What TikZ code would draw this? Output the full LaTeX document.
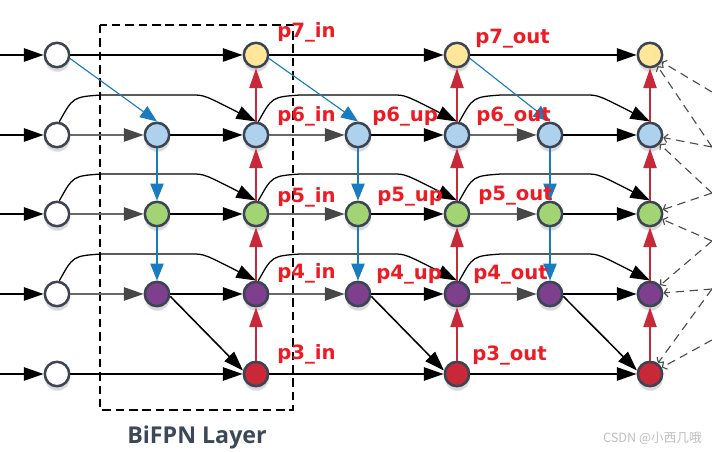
\documentclass[tikz,border=0pt]{standalone}
\usepackage{fontspec}
\setmainfont{Open Sans}
\newfontfamily\lblfont{DejaVu Sans}
\newfontfamily\cjkfont{Noto Sans CJK SC}
\usepackage{tikz}
\usetikzlibrary{arrows.meta,calc,shadows}
\definecolor{rim}{RGB}{58,68,82}
\definecolor{cyel}{RGB}{255,230,153}
\definecolor{cblu}{RGB}{174,210,238}
\definecolor{cgrn}{RGB}{162,212,116}
\definecolor{cpur}{RGB}{126,63,140}
\definecolor{cred}{RGB}{200,40,56}
\definecolor{lblred}{RGB}{237,28,36}
\definecolor{upred}{RGB}{200,40,56}
\definecolor{dnblu}{RGB}{24,124,190}
\definecolor{gline}{RGB}{105,105,105}
\definecolor{ttl}{RGB}{60,72,88}
\tikzset{
  fm/.style={circle,draw=rim,line width=1.8pt,minimum size=0.61cm,inner sep=0pt,
    circular drop shadow={shadow xshift=0pt,shadow yshift=-2.5pt,opacity=0.3}},
  blk/.style={-{Triangle[length=14pt,width=9.5pt]},line width=1.1pt,black},
  arc/.style={blk,line width=0.9pt},
  gry/.style={-{Triangle[length=14pt,width=9.5pt,color=black!72]},line width=1.1pt,draw=gline},
  up/.style={-{Triangle[length=14pt,width=9.5pt]},line width=0.9pt,draw=upred},
  dn/.style={-{Triangle[length=12pt,width=9.5pt]},line width=0.8pt,draw=dnblu},
  fan/.style={dashed,dash pattern=on 6pt off 4pt,line width=0.8pt,draw=black!70,-{Straight Barb[length=2.5pt,width=6pt]}},
  lbl/.style={anchor=west,inner sep=0pt,text=lblred,font=\lblfont\bfseries\fontsize{14}{16}\selectfont}
}
% curved skip connection: up, along, down into the target
\newcommand{\bumpline}[2]{\draw[arc] (#1.80) .. controls ($(#1)+(16,-38)$) .. ($(#1)+(44,-40)$)
  -- ($(#2)+(-64,-40)$) .. controls ($(#2)+(-52,-40)$) .. (#2.north);}

\begin{document}
\begin{tikzpicture}[x=0.025cm,y=-0.025cm]
\useasboundingbox (0,0) rectangle (712,452);
% nodes
\foreach \r/\y/\c in {7/55/cyel,6/135/cblu,5/214/cgrn,4/294/cpur,3/374/cred}{
  \coordinate (e\r) at (0,\y);
  \node[fm,fill=white] (w\r) at (57,\y) {};
  \node[fm,fill=\c] (i\r) at (256,\y) {};
  \node[fm,fill=\c] (o\r) at (457,\y) {};
  \node[fm,fill=\c] (f\r) at (650,\y) {};
}
\foreach \r/\y/\c in {6/135/cblu,5/214/cgrn,4/294/cpur}{
  \node[fm,fill=\c] (a\r) at (157,\y) {};
  \node[fm,fill=\c] (u\r) at (358,\y) {};
  \node[fm,fill=\c] (d\r) at (550,\y) {};
}
\coordinate (r1) at (712,92); \coordinate (r2) at (712,147); \coordinate (r3) at (712,193);
\coordinate (r4) at (712,241); \coordinate (r5) at (712,289); \coordinate (r6) at (712,340);

% BiFPN layer frame
\draw[line width=1.6pt,dash pattern=on 6pt off 3.5pt] (100,25) rectangle (293,410);
\node[font=\bfseries\fontsize{16.5}{18}\selectfont,text=ttl] (cap) at (197,437) {BiFPN Layer};

% rows
\foreach \r in {7,6,5,4,3} \draw[blk] (e\r) -- (w\r);
\foreach \r in {7,3}{
  \draw[blk] (w\r) -- (i\r); \draw[blk] (i\r) -- (o\r); \draw[blk] (o\r) -- (f\r);
}
\foreach \r in {6,5,4}{
  \draw[gry] (w\r) -- (a\r); \draw[blk] (a\r) -- (i\r);
  \draw[gry] (i\r) -- (u\r); \draw[blk] (u\r) -- (o\r);
  \draw[gry] (o\r) -- (d\r); \draw[blk] (d\r) -- (f\r);
  \bumpline{w\r}{i\r} \bumpline{i\r}{o\r} \bumpline{o\r}{f\r}
}
% top-down and bottom-up paths
\foreach \c in {a,u,d}{ \draw[dn] (\c6) -- (\c5); \draw[dn] (\c5) -- (\c4); }
\draw[dn] (w7.-15) -- (a6.north); \draw[dn] (i7.-15) -- (u6.north); \draw[dn] (o7.-15) -- (d6.north);
\foreach \c in {i,o,f}{
  \foreach \a/\b in {3/4,4/5,5/6,6/7} \draw[up] (\c\a) -- (\c\b);
}
\draw[blk] (a4.-10) -- (i3.165); \draw[blk] (u4.-10) -- (o3.165); \draw[blk] (d4.-10) -- (f3.165);
% links to the next layer
\foreach \n/\p/\q in {f7/r1/r2,f6/r2/r3,f5/r3/r4,f4/r4/r5,f3/r5/r6}{
  \draw[fan] (\p) -- (\n); \draw[fan] (\q) -- (\n);
}

% labels
\node[lbl] (l7in) at (277,32) {p7\_in};
\node[lbl] (l6in) at (277,116) {p6\_in};
\node[lbl] (l5in) at (277,197) {p5\_in};
\node[lbl] (l4in) at (277,273) {p4\_in};
\node[lbl] (l3in) at (277,354) {p3\_in};
\node[lbl] (l6up) at (372,117) {p6\_up};
\node[lbl] (l5up) at (377,197) {p5\_up};
\node[lbl] (l4up) at (376,275) {p4\_up};
\node[lbl] (l7out) at (475,39) {p7\_out};
\node[lbl] (l6out) at (476,117) {p6\_out};
\node[lbl] (l5out) at (478,196) {p5\_out};
\node[lbl] (l4out) at (473,275) {p4\_out};
\node[lbl] (l3out) at (472,356) {p3\_out};
\node[anchor=east,inner sep=0pt,text=black!25,font=\cjkfont\fontsize{9}{10}\selectfont] (mark) at (702,438) {CSDN @小西几哦};
\end{tikzpicture}
\end{document}
